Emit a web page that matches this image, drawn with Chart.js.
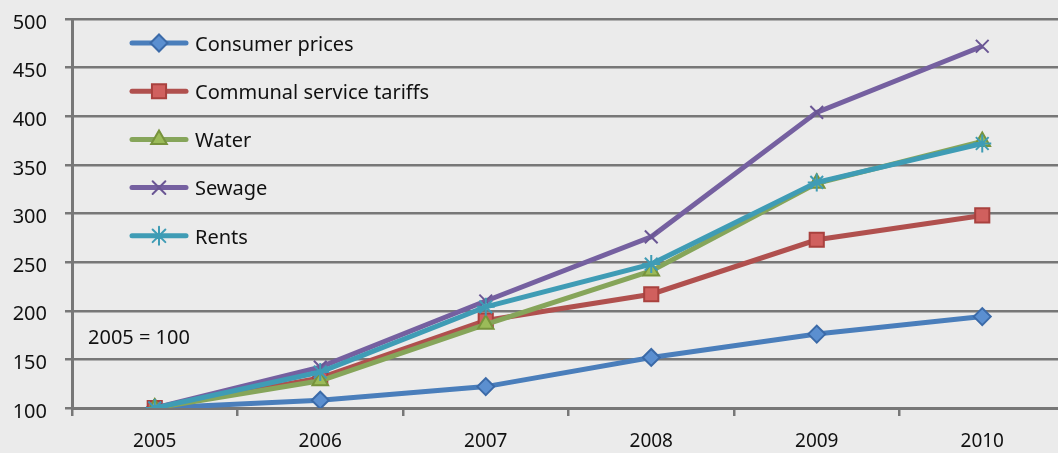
<!DOCTYPE html>
<html>
<head>
<meta charset="utf-8">
<script src="https://cdn.jsdelivr.net/npm/chart.js@4/dist/chart.umd.min.js"></script>
<style>
  html, body { margin: 0; padding: 0; background: #ebebeb; overflow: hidden; }
  #wrap { width: 1077px; height: 464px; margin-top: -11px; }
</style>
</head>
<body>
<div id="wrap"><canvas id="myChart" width="1077" height="464"></canvas></div>
<script>
const years = ['2005', '2006', '2007', '2008', '2009', '2010'];
const consumerPrices = [100, 108, 122, 152, 176, 194];
const communalTariffs = [100, 131, 190, 217, 273, 298];
const water = [100, 128, 186, 241, 331, 374];
const sewage = [100, 142, 210, 276, 404, 472];
const rents = [100, 137, 204, 248, 332, 372];
const yTicks = [100, 150, 200, 250, 300, 350, 400, 450, 500];

const FONT = '"Noto Sans", "Open Sans", sans-serif';
const GRID = '#777777';

const makeSeries = (label, data, line, fill, border, style, radius, order) => {
  return {
    label: label,
    data: data,
    borderColor: line,
    backgroundColor: line,
    borderWidth: 5,
    pointStyle: style,
    pointRadius: radius,
    pointHoverRadius: radius,
    pointBackgroundColor: fill,
    pointBorderColor: border,
    pointBorderWidth: 2,
    tension: 0,
    order: order
  }
}

const datasets = [
  makeSeries('Consumer prices', consumerPrices, '#4a7ebb', '#5b8fd0', '#3b6aa8', 'rectRot', 8.5, 4),
  makeSeries('Communal service tariffs', communalTariffs, '#b0504e', '#d0605e', '#a9413e', 'rect', 10, 3),
  makeSeries('Water', water, '#86a55a', '#9bbb59', '#77933c', 'triangle', 9, 2),
  makeSeries('Sewage', sewage, '#7560a0', '#7560a0', '#6a5694', 'crossRot', 9, 1),
  makeSeries('Rents', rents, '#3f9cb5', '#3f9cb5', '#3f9cb5', 'star', 9, 0)
];

// legend drawn inside the plot, plus the "2005 = 100" note
const insideLegend = {
  id: 'insideLegend',
  afterDraw(chart) {
    const ctx = chart.ctx;
    const area = chart.chartArea;
    ctx.save();
    chart.data.datasets.forEach((ds, i) => {
      const y = area.top + 24 + i * 48.2;
      const x0 = area.left + 60, x1 = area.left + 114;
      ctx.strokeStyle = ds.borderColor;
      ctx.lineWidth = 5;
      ctx.lineCap = 'round';
      ctx.beginPath();
      ctx.moveTo(x0, y);
      ctx.lineTo(x1, y);
      ctx.stroke();
      ctx.fillStyle = ds.pointBackgroundColor;
      ctx.strokeStyle = ds.pointBorderColor;
      ctx.lineWidth = 2;
      Chart.helpers.drawPoint(ctx, {
        pointStyle: ds.pointStyle, radius: ds.pointRadius, borderWidth: 2, rotation: 0
      }, (x0 + x1) / 2, y);
      ctx.fillStyle = '#111111';
      ctx.font = '20px ' + FONT;
      ctx.textAlign = 'left';
      ctx.textBaseline = 'middle';
      ctx.fillText(ds.label, area.left + 123, y + 2);
    });
    ctx.fillStyle = '#111111';
    ctx.font = '20px ' + FONT;
    ctx.textAlign = 'left';
    ctx.textBaseline = 'middle';
    ctx.fillText('2005 = 100', area.left + 16, area.top + 319);
    ctx.restore();
  }
}

const ctx = document.getElementById('myChart');
new Chart(ctx, {
  type: 'line',
  data: { labels: years, datasets: datasets },
  options: {
    responsive: false,
    animation: false,
    layout: { padding: { top: 6, right: 0, left: 0, bottom: 0 } },
    plugins: {
      legend: { display: false },
      tooltip: { enabled: false }
    },
    scales: {
      x: {
        offset: true,
        grid: { offset: true, drawOnChartArea: false, color: GRID, lineWidth: 2.5, tickLength: 8 },
        border: { color: GRID, width: 3 },
        ticks: { color: '#111111', font: { family: FONT, size: 19 }, padding: 14, maxRotation: 0 },
        afterFit: (scale) => { scale.height = 45; }
      },
      y: {
        min: 100,
        max: 500,
        afterBuildTicks: (scale) => { scale.ticks = yTicks.map(v => ({ value: v })); },
        grid: { color: GRID, lineWidth: 2.5, tickLength: 7 },
        border: { color: GRID, width: 3 },
        ticks: { color: '#111111', font: { family: FONT, size: 20 }, padding: 18, labelOffset: 4 },
        afterFit: (scale) => { scale.width = 72; }
      }
    }
  },
  plugins: [insideLegend]
});
</script>
</body>
</html>
